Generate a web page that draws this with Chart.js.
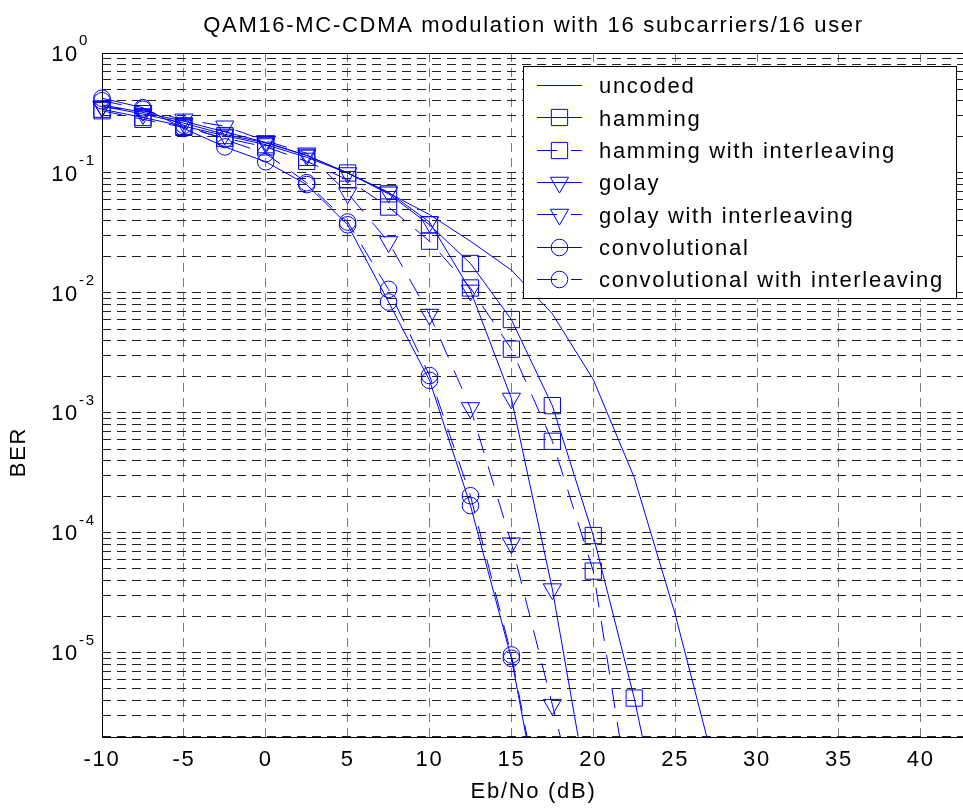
<!DOCTYPE html>
<html>
<head>
<meta charset="utf-8">
<title>QAM16-MC-CDMA BER</title>
<script src="https://cdn.jsdelivr.net/npm/chart.js@4.4.0/dist/chart.umd.min.js"></script>
<style>
    html, body { margin: 0; padding: 0; background: #fff; overflow: hidden; }
    #wrap { width: 1067px; height: 810px; }
</style>
</head>
<body>
<div id="wrap"><canvas id="berChart" width="1067" height="810"></canvas></div>
<script>
// Eb/No points (dB)
const snr = [-10, -7.5, -5, -2.5, 0, 2.5, 5, 7.5, 10, 12.5, 15, 17.5, 20, 22.5, 25, 27.5];

// BER curves (last values run below the axis and get clipped)
const uncoded = [0.37, 0.32, 0.27, 0.22, 0.18, 0.14, 0.10, 0.068, 0.045, 0.027, 0.0155, 0.0067, 0.0019, 0.00029, 0.000021, 0.000001];
const hamming = [0.34, 0.29, 0.245, 0.205, 0.172, 0.135, 0.10, 0.067, 0.037, 0.0176, 0.0060, 0.00115, 0.000095, 0.0000042, 0.0000001];
const hammingInt = [0.33, 0.28, 0.24, 0.195, 0.165, 0.125, 0.088, 0.052, 0.027, 0.011, 0.0034, 0.00058, 0.000048, 0.00000034];
const golay = [0.36, 0.31, 0.26, 0.21, 0.178, 0.14, 0.10, 0.069, 0.039, 0.0105, 0.00132, 0.000034, 0.00000038];
const golayInt = [0.355, 0.33, 0.28, 0.245, 0.185, 0.146, 0.068, 0.0266, 0.0066, 0.0011, 0.000082, 0.0000037, 0.00000016];
const conv = [0.42, 0.35, 0.235, 0.165, 0.124, 0.08, 0.037, 0.0084, 0.00187, 0.000169, 0.000009, 0.00000014];
const convInt = [0.40, 0.34, 0.25, 0.19, 0.145, 0.083, 0.039, 0.0107, 0.00205, 0.000204, 0.0000096, 0.00000016];

const seriesNames = ['uncoded', 'hamming', 'hamming with interleaving', 'golay',
    'golay with interleaving', 'convolutional', 'convolutional with interleaving'];

const chartTitle = 'QAM16-MC-CDMA modulation with 16 subcarriers/16 user';
const xLabel = 'Eb/No (dB)';
const yLabel = 'BER';
const yExponents = [0, -1, -2, -3, -4, -5]; // labelled decades

const X_MIN = -10, X_MAX = 42.7;
const Y_MIN = 2e-6, Y_MAX = 1;

const BLUE = '#0000ff';
const FONT = '"Liberation Sans", Arial, Helvetica, sans-serif';
const SPACING = '1.7px';

// grid lines at 1..9 x 10^n like matlab
const yGrid = [];
for (let e = -6; e < 0; e++) {
    for (let m = 1; m < 10; m++) {
        const v = m * Math.pow(10, e);
        if (v >= Y_MIN * 0.999) yGrid.push(v);
    }
}
yGrid.push(1);

function pts(vals) {
    return vals.map(function (v, i) { return { x: snr[i], y: v }; });
}

const markers = {
    none: { pointStyle: false, pointRadius: 0, pointRotation: 0 },
    square: { pointStyle: 'rect', pointRadius: 11.5, pointRotation: 0 },
    tri: { pointStyle: 'triangle', pointRadius: 10.5, pointRotation: 180 },
    circle: { pointStyle: 'circle', pointRadius: 8.3, pointRotation: 0 }
};

function series(label, vals, marker, dashed) {
    const m = markers[marker];
    return {
        label: label,
        data: pts(vals),
        borderColor: BLUE,
        borderWidth: 1,
        borderDash: dashed ? [20, 14] : [],
        pointStyle: m.pointStyle,
        pointRadius: m.pointRadius,
        pointHoverRadius: m.pointRadius,
        pointRotation: m.pointRotation,
        pointBorderColor: BLUE,
        pointBorderWidth: 1,
        pointBackgroundColor: 'rgba(0,0,0,0)',
        tension: 0,
        clip: { left: 14, top: 14, right: 14, bottom: 0 }
    };
}

const datasets = [
    series(seriesNames[0], uncoded, 'none', false),
    series(seriesNames[1], hamming, 'square', false),
    series(seriesNames[2], hammingInt, 'square', true),
    series(seriesNames[3], golay, 'tri', false),
    series(seriesNames[4], golayInt, 'tri', true),
    series(seriesNames[5], conv, 'circle', false),
    series(seriesNames[6], convInt, 'circle', true)
];

/* title, log tick labels, frame and the boxed legend */
const decor = {
    id: 'decor',
    beforeDraw(chart) {
        chart.ctx.letterSpacing = SPACING;
    },
    afterDraw(chart) {
        const ctx = chart.ctx;
        const a = chart.chartArea;
        const yScale = chart.scales.y;
        ctx.save();
        ctx.letterSpacing = SPACING;

        // frame
        ctx.strokeStyle = '#000';
        ctx.lineWidth = 1;
        ctx.setLineDash([]);
        ctx.beginPath();
        ctx.moveTo(a.right, Math.round(a.top) + 0.5);
        ctx.lineTo(Math.round(a.left) + 0.5, Math.round(a.top) + 0.5);
        ctx.lineTo(Math.round(a.left) + 0.5, Math.round(a.bottom) + 0.5);
        ctx.lineTo(a.right, Math.round(a.bottom) + 0.5);
        ctx.stroke();

        ctx.fillStyle = '#000';

        // title
        ctx.font = '22px ' + FONT;
        ctx.textAlign = 'center';
        ctx.textBaseline = 'alphabetic';
        ctx.fillText(chartTitle, (a.left + a.right) / 2, 31.5);

        // y tick labels 10^n
        yExponents.forEach(function (e) {
            const y = yScale.getPixelForValue(Math.pow(10, e));
            ctx.font = '22px ' + FONT;
            ctx.textAlign = 'right';
            ctx.textBaseline = 'middle';
            ctx.fillText('10', a.left - 23, y + 1.5);
            ctx.font = '15px ' + FONT;
            ctx.textAlign = 'left';
            ctx.textBaseline = 'alphabetic';
            ctx.fillText(String(e), a.left - 23, y - 8);
        });

        // y axis title
        ctx.save();
        ctx.font = '22px ' + FONT;
        ctx.translate(19, 452);
        ctx.rotate(-Math.PI / 2);
        ctx.textAlign = 'center';
        ctx.textBaseline = 'middle';
        ctx.fillText(yLabel, 0, 0);
        ctx.restore();

        // legend
        const bx = 523.5, by = 66.5, bw = 433, bh = 232;
        ctx.fillStyle = '#fff';
        ctx.fillRect(bx, by, bw, bh);
        ctx.strokeStyle = '#000';
        ctx.strokeRect(bx, by, bw, bh);

        chart.data.datasets.forEach(function (ds, i) {
            const y = 85 + i * 32.33;
            ctx.strokeStyle = ds.borderColor;
            ctx.lineWidth = 1;
            ctx.setLineDash(ds.borderDash || []);
            ctx.beginPath();
            ctx.moveTo(537, Math.round(y) + 0.5);
            ctx.lineTo(582, Math.round(y) + 0.5);
            ctx.stroke();
            ctx.setLineDash([]);
            if (ds.pointStyle) {
                ctx.fillStyle = 'rgba(0,0,0,0)';
                ctx.strokeStyle = ds.pointBorderColor;
                Chart.helpers.drawPoint(ctx, {
                    pointStyle: ds.pointStyle,
                    rotation: ds.pointRotation,
                    radius: ds.pointRadius,
                    borderWidth: 1
                }, 559.5, Math.round(y) + 0.5);
            }
            ctx.fillStyle = '#000';
            ctx.font = '22px ' + FONT;
            ctx.textAlign = 'left';
            ctx.textBaseline = 'alphabetic';
            ctx.fillText(ds.label, 599, y + 8.3);
        });

        ctx.restore();
    }
};

const ctx = document.getElementById('berChart');

new Chart(ctx, {
    type: 'line',
    data: { datasets: datasets },
    options: {
        responsive: false,
        animation: false,
        devicePixelRatio: 1,
        layout: { padding: { top: 53, right: 102, left: 0, bottom: 0 } },
        plugins: {
            legend: { display: false },
            tooltip: { enabled: false },
            title: { display: false }
        },
        scales: {
            x: {
                type: 'linear',
                min: X_MIN,
                max: X_MAX,
                ticks: {
                    stepSize: 5,
                    includeBounds: false,
                    color: '#000',
                    padding: 10,
                    font: { family: FONT, size: 22 }
                },
                grid: { color: '#7a7a7a', lineWidth: 1, drawTicks: false },
                border: { display: false, dash: [9, 6] },
                title: {
                    display: true,
                    text: xLabel,
                    color: '#000',
                    font: { family: FONT, size: 22 },
                    padding: { top: 0, bottom: 5 }
                },
                afterFit: function (scale) { scale.height = 73.3; }
            },
            y: {
                type: 'logarithmic',
                min: Y_MIN,
                max: Y_MAX,
                ticks: { display: false, autoSkip: false },
                grid: { color: '#222', lineWidth: 1, drawTicks: false },
                border: { display: false, dash: [9, 6] },
                afterBuildTicks: function (scale) {
                    scale.ticks = yGrid.map(function (v) { return { value: v }; });
                },
                afterFit: function (scale) { scale.width = 102; }
            }
        }
    },
    plugins: [decor]
});
</script>
</body>
</html>
